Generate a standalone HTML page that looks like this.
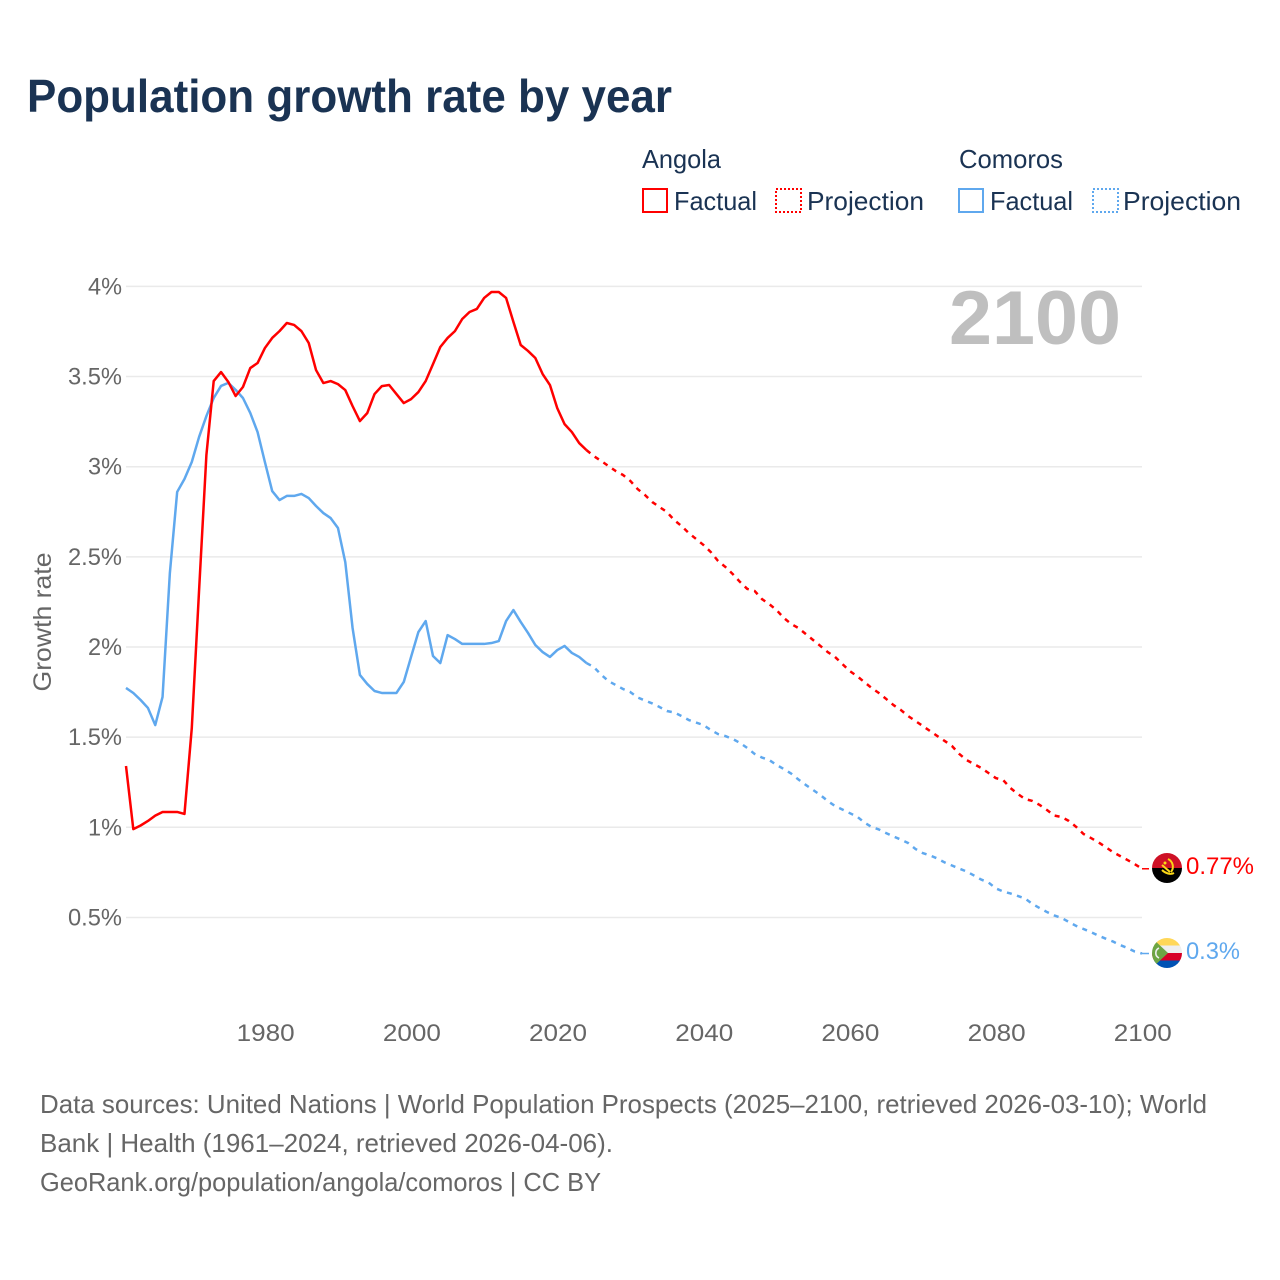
<!DOCTYPE html>
<html lang="en">
<head>
<meta charset="utf-8">
<title>Population growth rate by year</title>
<style>
html,body{margin:0;padding:0;background:#fff;width:1280px;height:1280px;overflow:hidden}
svg{display:block}
text{font-family:"Liberation Sans",sans-serif}
</style>
</head>
<body>
<svg id="chart" xmlns="http://www.w3.org/2000/svg" width="1280" height="1280" viewBox="0 0 1280 1280">
  <defs>
    <clipPath id="clip-angola"><circle cx="1167" cy="868" r="15"/></clipPath>
    <clipPath id="clip-comoros"><circle cx="1167" cy="953" r="15"/></clipPath>
  </defs>
  <rect width="1280" height="1280" fill="#ffffff"/>
  <text x="27" y="112" font-size="46" font-weight="700" fill="#1a3353" textLength="645" lengthAdjust="spacingAndGlyphs">Population growth rate by year</text>

  <g font-size="26" fill="#1a3353">
    <text x="642" y="168" textLength="79" lengthAdjust="spacingAndGlyphs">Angola</text>
    <text x="959" y="168" textLength="104" lengthAdjust="spacingAndGlyphs">Comoros</text>
    <g>
      <rect x="643" y="189" width="24" height="23" fill="none" stroke="#ff0000" stroke-width="2"/>
      <text x="674" y="210" textLength="83" lengthAdjust="spacingAndGlyphs">Factual</text>
    </g>
    <g>
      <rect x="776" y="189" width="25" height="23" fill="none" stroke="#ff0000" stroke-width="2" stroke-dasharray="2 2"/>
      <text x="807" y="210" textLength="117" lengthAdjust="spacingAndGlyphs">Projection</text>
    </g>
    <g>
      <rect x="959" y="189" width="24" height="23" fill="none" stroke="#5fa8ee" stroke-width="2"/>
      <text x="990" y="210" textLength="83" lengthAdjust="spacingAndGlyphs">Factual</text>
    </g>
    <g>
      <rect x="1093" y="189" width="25" height="23" fill="none" stroke="#5fa8ee" stroke-width="2" stroke-dasharray="2 2"/>
      <text x="1123" y="210" textLength="118" lengthAdjust="spacingAndGlyphs">Projection</text>
    </g>
  </g>

  <g id="grid"></g>
  <g id="y-axis"></g>
  <g id="x-axis"></g>
  <text transform="translate(51,622) rotate(-90)" text-anchor="middle" font-size="25" fill="#666666" textLength="139" lengthAdjust="spacingAndGlyphs">Growth rate</text>
  <text x="1121" y="344" text-anchor="end" font-size="76" font-weight="700" fill="#bfbfbf" textLength="172" lengthAdjust="spacingAndGlyphs">2100</text>
  <g id="series"></g>

  <g clip-path="url(#clip-angola)">
    <rect x="1152" y="853" width="30" height="15" fill="#ce1126"/>
    <rect x="1152" y="868" width="30" height="15" fill="#000000"/>
    <path d="M1168 859a8.5 8.5 0 0 1 3 13M1174 873c-4 2-9 0-12-3M1162 865l8 7" fill="none" stroke="#f9d616" stroke-width="2"/>
    <circle cx="1165" cy="863" r="1.5" fill="#f9d616"/>
  </g>
  <g clip-path="url(#clip-comoros)">
    <rect x="1152" y="938" width="30" height="7.5" fill="#ffd758"/>
    <rect x="1152" y="945.5" width="30" height="7.5" fill="#eeeeee"/>
    <rect x="1152" y="953" width="30" height="7.5" fill="#d80027"/>
    <rect x="1152" y="960.5" width="30" height="7.5" fill="#0052b4"/>
    <path d="M1152 938L1168 953L1152 968Z" fill="#6da544"/>
    <path d="M1159 948a5.5 5.5 0 0 0 0 10" fill="none" stroke="#eeeeee" stroke-width="1.6"/>
  </g>
  <text x="1186" y="874" font-size="24" fill="#ff0000" textLength="68" lengthAdjust="spacingAndGlyphs">0.77%</text>
  <text x="1186" y="959" font-size="24" fill="#5fa8ee" textLength="54" lengthAdjust="spacingAndGlyphs">0.3%</text>

  <g font-size="26" fill="#666666">
    <text x="40" y="1113" textLength="1167" lengthAdjust="spacingAndGlyphs">Data sources: United Nations | World Population Prospects (2025–2100, retrieved 2026-03-10); World</text>
    <text x="40" y="1152" textLength="573" lengthAdjust="spacingAndGlyphs">Bank | Health (1961–2024, retrieved 2026-04-06).</text>
    <text x="40" y="1191" textLength="561" lengthAdjust="spacingAndGlyphs">GeoRank.org/population/angola/comoros | CC BY</text>
  </g>
</svg>
<script>
const firstYear = 1961;
const lastFactualYear = 2024;
const yTickValues = [0.5, 1, 1.5, 2, 2.5, 3, 3.5, 4];
const yTickLabels = ["0.5%", "1%", "1.5%", "2%", "2.5%", "3%", "3.5%", "4%"];
const xTickYears = [1980, 2000, 2020, 2040, 2060, 2080, 2100];
const xTickLabels = ["1980", "2000", "2020", "2040", "2060", "2080", "2100"];

const angolaFactual = [1.34,0.99,1.01,1.035,1.065,1.085,1.085,1.085,1.074,1.55,2.316,3.065,3.475,3.525,3.47,3.392,3.442,3.547,3.575,3.658,3.714,3.752,3.797,3.786,3.752,3.686,3.536,3.464,3.475,3.458,3.425,3.336,3.253,3.297,3.403,3.447,3.453,3.403,3.353,3.375,3.414,3.475,3.569,3.664,3.714,3.752,3.819,3.858,3.875,3.936,3.969,3.969,3.936,3.803,3.675,3.642,3.603,3.514,3.453,3.325,3.236,3.192,3.131,3.092];
const angolaProjection = [3.059,3.032,3.004,2.976,2.954,2.921,2.876,2.843,2.804,2.776,2.749,2.704,2.671,2.632,2.599,2.566,2.527,2.477,2.444,2.405,2.361,2.322,2.311,2.266,2.238,2.205,2.161,2.128,2.105,2.072,2.039,2.006,1.972,1.945,1.906,1.867,1.839,1.806,1.773,1.745,1.712,1.678,1.651,1.617,1.59,1.562,1.534,1.506,1.479,1.451,1.407,1.373,1.351,1.329,1.301,1.273,1.262,1.218,1.185,1.157,1.146,1.124,1.096,1.065,1.057,1.035,1.002,0.963,0.941,0.918,0.891,0.863,0.841,0.819,0.796,0.77];
const comorosFactual = [1.773,1.745,1.706,1.662,1.567,1.723,2.41,2.86,2.932,3.026,3.165,3.281,3.381,3.448,3.465,3.426,3.381,3.298,3.192,3.026,2.865,2.815,2.838,2.838,2.849,2.826,2.782,2.743,2.715,2.66,2.471,2.105,1.845,1.795,1.756,1.745,1.745,1.745,1.806,1.945,2.083,2.144,1.95,1.911,2.066,2.044,2.017,2.017,2.017,2.017,2.022,2.033,2.144,2.205,2.139,2.078,2.011,1.972,1.945,1.983,2.006,1.967,1.945,1.911];
const comorosProjection = [1.889,1.847,1.811,1.789,1.767,1.75,1.72,1.703,1.687,1.667,1.645,1.637,1.617,1.595,1.581,1.567,1.54,1.517,1.506,1.49,1.468,1.44,1.407,1.387,1.373,1.346,1.323,1.298,1.265,1.235,1.207,1.179,1.146,1.118,1.099,1.079,1.06,1.027,1.002,0.988,0.968,0.949,0.932,0.913,0.88,0.857,0.844,0.827,0.805,0.788,0.771,0.755,0.733,0.71,0.694,0.661,0.644,0.633,0.619,0.605,0.575,0.552,0.53,0.511,0.497,0.475,0.453,0.436,0.419,0.4,0.383,0.367,0.347,0.331,0.311,0.3];

const NS = "http://www.w3.org/2000/svg";
const plotLeft = 126, plotRight = 1142;
function xScale(year) { return plotLeft + (year - firstYear) * (plotRight - plotLeft) / (2100 - firstYear); }
function yScale(v) { return 827.3 - (v - 1) * 180.3; }

const gridGroup = document.getElementById("grid");
const yAxisGroup = document.getElementById("y-axis");
const xAxisGroup = document.getElementById("x-axis");
const seriesGroup = document.getElementById("series");

yTickValues.forEach(function (v, i) {
  const line = document.createElementNS(NS, "line");
  
  
  line.setAttribute("x1", plotLeft);
  line.setAttribute("x2", plotRight);
  line.setAttribute("y1", yScale(v));
  line.setAttribute("y2", yScale(v));
  line.setAttribute("stroke", "#eaeaea");
  line.setAttribute("stroke-width", "1.5");
  gridGroup.appendChild(line);

  const label = document.createElementNS(NS, "text");
  
  
  label.setAttribute("x", 122);
  label.setAttribute("y", yScale(v) + 8);
  label.setAttribute("text-anchor", "end");
  label.setAttribute("font-size", "24");
  label.setAttribute("fill", "#666666");
  label.setAttribute("textLength", yTickLabels[i].length === 2 ? 34 : 54);
  label.setAttribute("lengthAdjust", "spacingAndGlyphs");
  label.textContent = yTickLabels[i];
  yAxisGroup.appendChild(label);
});

xTickYears.forEach(function (year, i) {
  const label = document.createElementNS(NS, "text");
  
  
  label.setAttribute("x", xScale(year) + 0.8);
  label.setAttribute("y", 1041);
  label.setAttribute("text-anchor", "middle");
  label.setAttribute("font-size", "24");
  label.setAttribute("fill", "#666666");
  label.setAttribute("textLength", 58);
  label.setAttribute("lengthAdjust", "spacingAndGlyphs");
  label.textContent = xTickLabels[i];
  xAxisGroup.appendChild(label);
});

function pathFrom(values, startYear) {
  return values.map(function (v, i) {
    return (i ? "L" : "M") + xScale(startYear + i).toFixed(2) + " " + yScale(v).toFixed(2);
  }).join("");
}

function drawLine(name, values, startYear, color, dashed) {
  const p = document.createElementNS(NS, "path");
  
  
  p.setAttribute("d", pathFrom(values, startYear));
  p.setAttribute("fill", "none");
  p.setAttribute("stroke", color);
  p.setAttribute("stroke-width", "2.5");
  p.setAttribute("stroke-linejoin", "round");
  if (dashed) p.setAttribute("stroke-dasharray", "5 5.5");
  seriesGroup.appendChild(p);
}

function drawLeader(name, value, color) {
  const l = document.createElementNS(NS, "line");
  
  
  l.setAttribute("x1", plotRight);
  l.setAttribute("x2", plotRight + 7);
  l.setAttribute("y1", yScale(value));
  l.setAttribute("y2", yScale(value));
  l.setAttribute("stroke", color);
  l.setAttribute("stroke-width", "1.5");
  seriesGroup.appendChild(l);
}

const blue = "#5fa8ee", red = "#ff0000";
drawLine("comoros-factual-line", comorosFactual, firstYear, blue, false);
drawLine("comoros-projection-line", [comorosFactual[comorosFactual.length - 1]].concat(comorosProjection), lastFactualYear, blue, true);
drawLeader("comoros-end-leader", comorosProjection[comorosProjection.length - 1], blue);
drawLine("angola-factual-line", angolaFactual, firstYear, red, false);
drawLine("angola-projection-line", [angolaFactual[angolaFactual.length - 1]].concat(angolaProjection), lastFactualYear, red, true);
drawLeader("angola-end-leader", angolaProjection[angolaProjection.length - 1], red);
</script>
</body>
</html>
